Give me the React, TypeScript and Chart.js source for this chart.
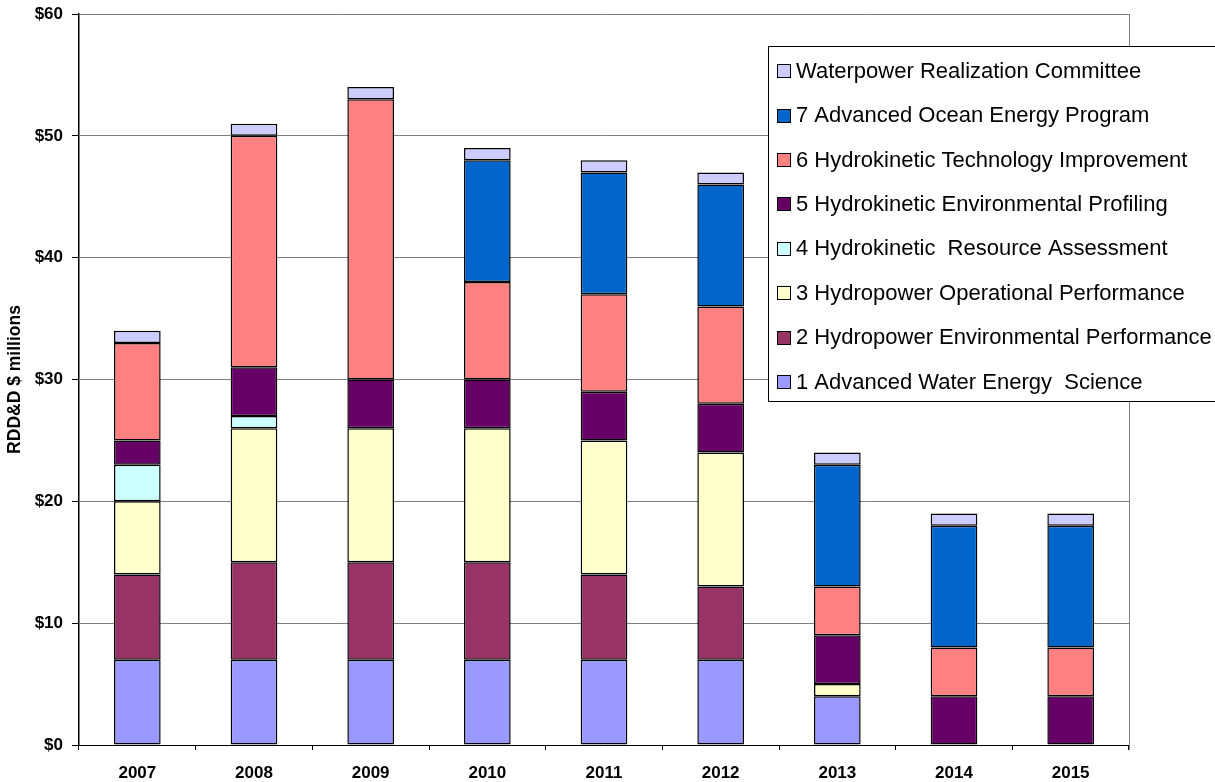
import React, { useEffect, useRef } from "react";
import { Chart, registerables } from "chart.js";

Chart.register(...registerables);

const years = ["2007", "2008", "2009", "2010", "2011", "2012", "2013", "2014", "2015"];
const s1AdvancedWater = [7, 7, 7, 7, 7, 7, 4, null, null];
const s2HydroEnv = [7, 8, 8, 8, 7, 6, null, null, null];
const s3HydroOps = [6, 11, 11, 11, 11, 11, 1, null, null];
const s4HkResource = [3, 1, null, null, null, null, null, null, null];
const s5HkEnvProfiling = [2, 4, 4, 4, 4, 4, 4, 4, 4];
const s6HkTech = [8, 19, 23, 8, 8, 8, 4, 4, 4];
const s7Ocean = [null, null, null, 10, 10, 10, 10, 10, 10];
const sWrc = [1, 1, 1, 1, 1, 1, 1, 1, 1];
const yTicks = [0, 10, 20, 30, 40, 50, 60];

const seriesLabels = [
  "1 Advanced Water Energy  Science",
  "2 Hydropower Environmental Performance",
  "3 Hydropower Operational Performance",
  "4 Hydrokinetic  Resource Assessment",
  "5 Hydrokinetic Environmental Profiling",
  "6 Hydrokinetic Technology Improvement",
  "7 Advanced Ocean Energy Program",
  "Waterpower Realization Committee",
];
const seriesColors = ["#9999FF", "#993366", "#FFFFCC", "#CCFFFF", "#660066", "#FF8080", "#0066CC", "#CCCCFF"];
const seriesData = [s1AdvancedWater, s2HydroEnv, s3HydroOps, s4HkResource, s5HkEnvProfiling, s6HkTech, s7Ocean, sWrc];

const FONT = "Arial, 'Liberation Sans', sans-serif";

const framePlugin = {
  id: "frame",
  beforeDatasetsDraw(chart: any) {
    const { ctx, chartArea } = chart;
    ctx.save();
    ctx.strokeStyle = "#808080";
    ctx.lineWidth = 1;
    ctx.beginPath();
    const x = Math.round(chartArea.right) + 0.5;
    ctx.moveTo(x, chartArea.top);
    ctx.lineTo(x, chartArea.bottom + 5);
    ctx.stroke();
    ctx.restore();
  },
};

const legendPlugin = {
  id: "customLegend",
  afterDraw(chart: any) {
    const { ctx } = chart;
    const left = 768.5, top = 46.5, right = 1216, bottom = 401.5;
    ctx.save();
    ctx.fillStyle = "#FFFFFF";
    ctx.fillRect(left, top, right - left, bottom - top);
    ctx.strokeStyle = "#000000";
    ctx.lineWidth = 1;
    ctx.strokeRect(left, top, right - left, bottom - top);
    ctx.font = `22px ${FONT}`;
    ctx.textBaseline = "middle";
    ctx.textAlign = "left";
    const n = seriesLabels.length;
    for (let i = 0; i < n; i++) {
      const idx = n - 1 - i;
      const cy = 70.7 + i * 44.4;
      const bx = 777.5, by = Math.round(cy - 6.5) + 0.5;
      ctx.fillStyle = seriesColors[idx];
      ctx.fillRect(bx, by, 13, 13);
      ctx.strokeStyle = "#000";
      ctx.strokeRect(bx, by, 13, 13);
      ctx.fillStyle = "#000";
      ctx.fillText(seriesLabels[idx], 796, cy + 1);
    }
    ctx.restore();
  },
};

export default function App() {
  const ref = useRef<HTMLCanvasElement | null>(null);
  useEffect(() => {
    document.body.style.margin = "0";
    const canvas = ref.current!;
    const chart = new Chart(canvas, {
      type: "bar",
      data: {
        labels: years,
        datasets: seriesData.map((d, i) => ({
          label: seriesLabels[i],
          data: d as any,
          backgroundColor: seriesColors[i],
          borderColor: "#000000",
          borderWidth: 1.5,
          borderSkipped: false,
          barPercentage: 0.4,
          categoryPercentage: 1,
        })),
      },
      options: {
        animation: false,
        responsive: false,
        maintainAspectRatio: false,
        layout: { padding: { top: 14, right: 86, left: 0, bottom: 0 } },
        plugins: { legend: { display: false }, tooltip: { enabled: false } },
        scales: {
          x: {
            stacked: true,
            afterFit(scale: any) { scale.height = 37; scale.paddingLeft = 0; scale.paddingRight = 0; },
            grid: { offset: true, drawOnChartArea: false, tickLength: 5, color: "#000", tickColor: "#000" },
            border: { color: "#000", width: 1 },
            ticks: { color: "#000", font: { family: FONT, size: 17, weight: "bold" }, padding: 13, maxRotation: 0 },
          },
          y: {
            stacked: true,
            min: 0,
            max: 60,
            afterFit(scale: any) { scale.width = 79; scale.paddingTop = 0; scale.paddingBottom = 0; },
            afterBuildTicks(scale: any) { scale.ticks = yTicks.map((v) => ({ value: v })); },
            grid: { color: "#808080", tickColor: "#000", tickLength: 7 },
            border: { color: "#000", width: 1.5 },
            ticks: {
              color: "#000",
              padding: 9,
              font: { family: FONT, size: 17, weight: "bold" },
              callback: (v: any) => "$" + v,
            },
            title: {
              display: true,
              text: "RDD&D $ millions",
              color: "#000",
              font: { family: FONT, size: 17.5, weight: "bold" },
              padding: { top: 4.5, bottom: 0 },
            },
          },
        },
      },
      plugins: [framePlugin, legendPlugin],
    } as any);
    return () => chart.destroy();
  }, []);
  return (
    <div style={{ width: 1215, height: 782 }}>
      <canvas ref={ref} width={1215} height={782} style={{ display: "block", width: 1215, height: 782 }} />
    </div>
  );
}
